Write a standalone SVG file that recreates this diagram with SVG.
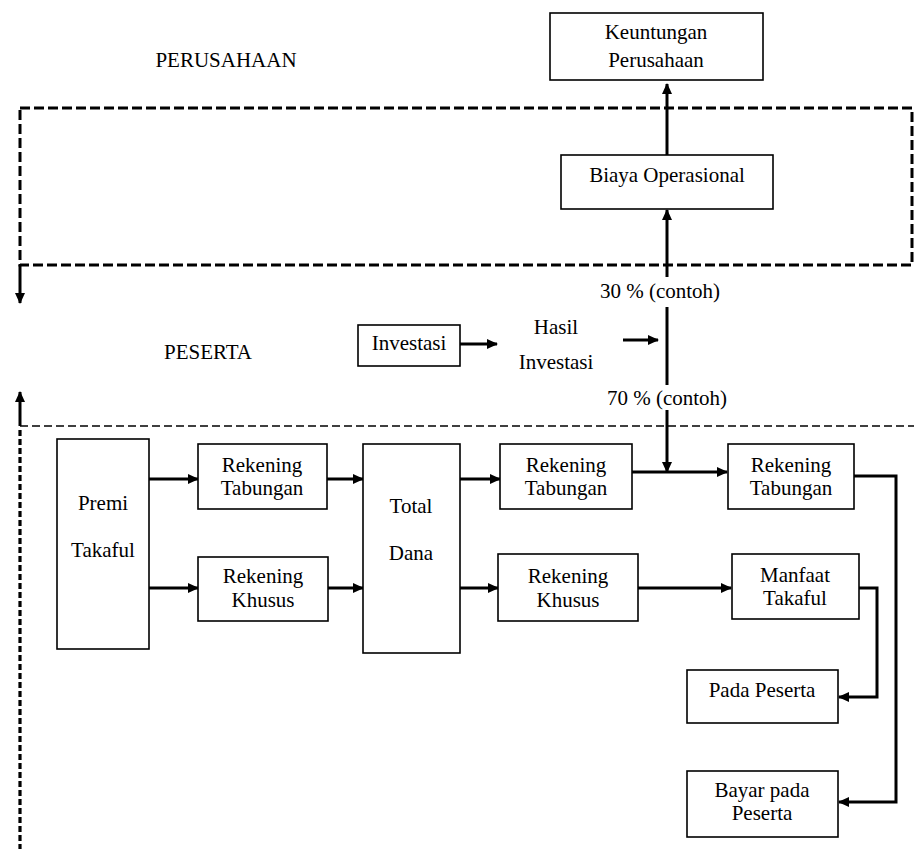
<svg xmlns="http://www.w3.org/2000/svg" width="914" height="849" viewBox="0 0 914 849" font-family="Liberation Serif, Times New Roman, serif">
<defs>
<style>
text{font-size:21px;fill:#000;text-anchor:middle}
.box{fill:#fff;stroke:#000;stroke-width:1.6}
.c{fill:none;stroke:#000;stroke-width:3}
.cm{fill:none;stroke:#000;stroke-width:3;marker-end:url(#ah)}
.dash{fill:none;stroke:#000;stroke-width:3;stroke-dasharray:10 4}
</style>
<marker id="ah" markerUnits="userSpaceOnUse" markerWidth="11" markerHeight="10" refX="10" refY="5" orient="auto">
<path d="M0,0 L11,5 L0,10 z" fill="#000"/>
</marker>
</defs>
<g id="regions">
<rect x="20" y="108" width="892" height="157" class="dash"/>
<line x1="20" y1="426" x2="914" y2="426" fill="none" stroke="#000" stroke-width="1.5" stroke-dasharray="8 4"/>
<line x1="20" y1="430" x2="20" y2="849" fill="none" stroke="#000" stroke-width="3.2" stroke-dasharray="6 3"/>
<text x="226" y="67">PERUSAHAAN</text>
<text x="208" y="359">PESERTA</text>
</g>
<g id="connectors">
<line x1="20" y1="265" x2="20" y2="303" class="cm" stroke-width="2.5"/>
<line x1="20" y1="426" x2="20" y2="392" class="cm" stroke-width="2.5"/>
<line x1="667" y1="155" x2="667" y2="84" class="cm"/>
<line x1="667" y1="277" x2="667" y2="210" class="cm"/>
<line x1="667" y1="307" x2="667" y2="385" class="c"/>
<line x1="667" y1="410" x2="667" y2="472" class="cm"/>
<line x1="460" y1="344" x2="497" y2="344" class="cm"/>
<line x1="623" y1="340" x2="658" y2="340" class="cm"/>
<line x1="149" y1="479" x2="198" y2="479" class="cm"/>
<line x1="327" y1="479" x2="363" y2="479" class="cm"/>
<line x1="149" y1="588" x2="198" y2="588" class="cm"/>
<line x1="328" y1="588" x2="363" y2="588" class="cm"/>
<line x1="460" y1="479" x2="500" y2="479" class="cm"/>
<line x1="460" y1="588" x2="498" y2="588" class="cm"/>
<line x1="632" y1="472" x2="727" y2="472" class="cm"/>
<line x1="638" y1="588" x2="731" y2="588" class="cm"/>
<polyline points="854,476 896,476 896,802 839,802" class="cm"/>
<polyline points="859,588 877,588 877,697 839,697" class="cm"/>
</g>
<g id="keuntungan">
<rect x="550" y="13" width="213" height="67" class="box"/>
<text x="656" y="39">Keuntungan</text>
<text x="656" y="67">Perusahaan</text>
</g>
<g id="biaya">
<rect x="561" y="155" width="212" height="54" class="box"/>
<text x="667" y="182">Biaya Operasional</text>
</g>
<g id="pct30"><text x="660" y="298">30 % (contoh)</text></g>
<g id="pct70"><text x="667" y="405">70 % (contoh)</text></g>
<g id="hasil">
<text x="556" y="334">Hasil</text>
<text x="556" y="369">Investasi</text>
</g>
<g id="investasi">
<rect x="358" y="325" width="102" height="41" class="box"/>
<text x="409" y="350">Investasi</text>
</g>
<g id="premi">
<rect x="57" y="439" width="92" height="210" class="box"/>
<text x="103" y="510">Premi</text>
<text x="103" y="557">Takaful</text>
</g>
<g id="tabungan1">
<rect x="198" y="444" width="129" height="65" class="box"/>
<text x="262" y="472">Rekening</text>
<text x="262" y="495">Tabungan</text>
</g>
<g id="khusus1">
<rect x="198" y="557" width="130" height="64" class="box"/>
<text x="263" y="583">Rekening</text>
<text x="263" y="607">Khusus</text>
</g>
<g id="totaldana">
<rect x="363" y="444" width="97" height="209" class="box"/>
<text x="411" y="513">Total</text>
<text x="411" y="560">Dana</text>
</g>
<g id="tabungan2">
<rect x="500" y="444" width="132" height="65" class="box"/>
<text x="566" y="472">Rekening</text>
<text x="566" y="495">Tabungan</text>
</g>
<g id="khusus2">
<rect x="498" y="554" width="140" height="67" class="box"/>
<text x="568" y="583">Rekening</text>
<text x="568" y="607">Khusus</text>
</g>
<g id="tabungan3">
<rect x="728" y="444" width="126" height="65" class="box"/>
<text x="791" y="472">Rekening</text>
<text x="791" y="495">Tabungan</text>
</g>
<g id="manfaat">
<rect x="732" y="554" width="127" height="65" class="box"/>
<text x="795" y="582">Manfaat</text>
<text x="795" y="605">Takaful</text>
</g>
<g id="pada">
<rect x="687" y="670" width="151" height="53" class="box"/>
<text x="762" y="697">Pada Peserta</text>
</g>
<g id="bayar">
<rect x="687" y="771" width="151" height="66" class="box"/>
<text x="762" y="797">Bayar pada</text>
<text x="762" y="820">Peserta</text>
</g>
</svg>
